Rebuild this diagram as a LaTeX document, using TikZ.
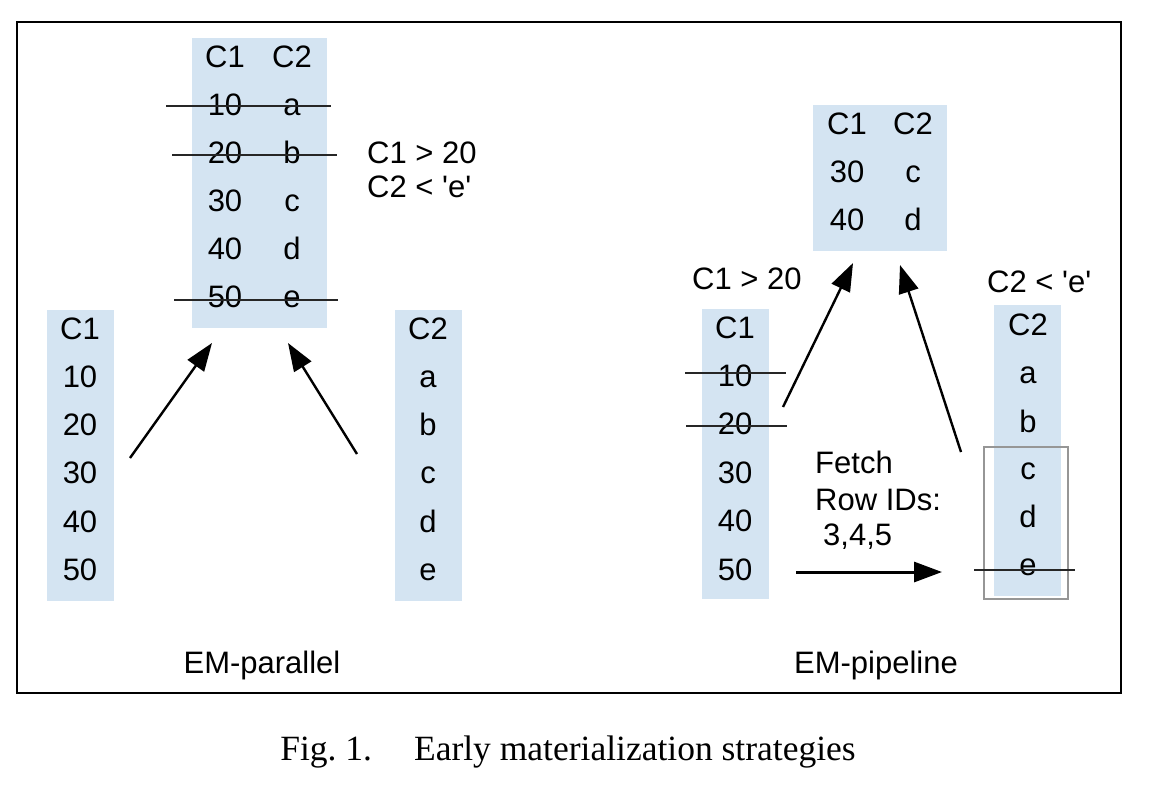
\documentclass[tikz,border=0pt]{standalone}
\usepackage{fontspec}
\setmainfont{Liberation Sans}
\newfontfamily\capfont{Liberation Serif}
\usepackage{tikz}
\usetikzlibrary{arrows.meta}
\usetikzlibrary{fit}
\definecolor{colblue}{RGB}{212,228,242}
\definecolor{boxgray}{RGB}{150,150,150}
\newcommand{\colbox}[5]{ \node[colbox, fit={( #2 , #3 ) ( #4 , #5 )}] (#1) {};}
\newcommand{\strike}[3]{ \draw[strikeline] ( #1 , #3 ) -- ( #2 , #3 );}
\newcommand{\sq}{\textquotesingle}
\tikzset{
  colbox/.style={fill=colblue, inner sep=0pt, outer sep=0pt},
  cell/.style={font=\fontsize{31}{36}\selectfont, inner sep=0pt, anchor=base},
  lbl/.style={font=\fontsize{31}{36}\selectfont, inner sep=0pt, anchor=base west},
  strikeline/.style={line width=1.2pt, black!85},
  arr/.style={line width=2.4pt, -{Triangle[length=28pt,width=20pt]}}
}

\begin{document}
\begin{tikzpicture}[x=1pt,y=-1pt]
        \useasboundingbox (0,0) rectangle (1174,788);
        \draw[line width=1.6pt] (17,22) rectangle (1121,693);

        % EM-parallel
        \colbox{ltab}{192}{38}{327}{328}
        \colbox{lcola}{47}{310}{114}{601}
        \colbox{lcolb}{395}{310}{462}{601}

        \node[cell] (lth1) at (225,67) {C1};
        \node[cell] (lth2) at (292,67) {C2};
        \node[cell] (lt11) at (225,115) {10};
        \node[cell] (lt12) at (292,115) {a};
        \node[cell] (lt21) at (225,163) {20};
        \node[cell] (lt22) at (292,163) {b};
        \node[cell] (lt31) at (225,211) {30};
        \node[cell] (lt32) at (292,211) {c};
        \node[cell] (lt41) at (225,259) {40};
        \node[cell] (lt42) at (292,259) {d};
        \node[cell] (lt51) at (225,307) {50};
        \node[cell] (lt52) at (292,307) {e};
        \strike{166}{331}{106}
        \strike{172}{337}{155}
        \strike{174}{338}{300}

        \node[lbl] (lcond1) at (367,163) {C1 > 20};
        \node[lbl] (lcond2) at (367,197) {C2 < \sq e\sq};

        \node[cell] (la0) at (80,339) {C1};
        \node[cell] (la1) at (80,387) {10};
        \node[cell] (la2) at (80,435) {20};
        \node[cell] (la3) at (80,483) {30};
        \node[cell] (la4) at (80,532) {40};
        \node[cell] (la5) at (80,580) {50};

        \node[cell] (lb0) at (428,339) {C2};
        \node[cell] (lb1) at (428,387) {a};
        \node[cell] (lb2) at (428,435) {b};
        \node[cell] (lb3) at (428,483) {c};
        \node[cell] (lb4) at (428,532) {d};
        \node[cell] (lb5) at (428,580) {e};

        \coordinate (lfroma) at (130,458);
        \coordinate (ltoa) at (212,343);
        \coordinate (lfromb) at (357,454);
        \coordinate (ltob) at (288,343);
        \draw[arr] (lfroma) -- (ltoa);
        \draw[arr] (lfromb) -- (ltob);

        \node[cell] (lname) at (262,673) {EM-parallel};

        % EM-pipeline
        \colbox{rtab}{813}{105}{947}{251}
        \colbox{rcola}{702}{309}{769}{599}
        \colbox{rcolb}{994}{305}{1061}{596}
        \draw[boxgray, line width=1.2pt] (984,447) rectangle (1068,599);

        \node[cell] (rth1) at (847,134) {C1};
        \node[cell] (rth2) at (913,134) {C2};
        \node[cell] (rt11) at (847,182) {30};
        \node[cell] (rt12) at (913,182) {c};
        \node[cell] (rt21) at (847,230) {40};
        \node[cell] (rt22) at (913,230) {d};

        \node[lbl] (rcond1) at (692,289) {C1 > 20};
        \node[lbl] (rcond2) at (987,292) {C2 < \sq e\sq};

        \node[cell] (ra0) at (735,338) {C1};
        \node[cell] (ra1) at (735,386) {10};
        \node[cell] (ra2) at (735,434) {20};
        \node[cell] (ra3) at (735,483) {30};
        \node[cell] (ra4) at (735,531) {40};
        \node[cell] (ra5) at (735,580) {50};
        \strike{685}{786}{373}
        \strike{686}{787}{426}

        \node[cell] (rb0) at (1028,335) {C2};
        \node[cell] (rb1) at (1028,383) {a};
        \node[cell] (rb2) at (1028,432) {b};
        \node[cell] (rb3) at (1028,479) {c};
        \node[cell] (rb4) at (1028,527) {d};
        \node[cell] (rb5) at (1028,575) {e};
        \strike{974}{1075}{570}

        \node[lbl] (fetch1) at (815,473) {Fetch};
        \node[lbl] (fetch2) at (815,510) {Row IDs:};
        \node[lbl] (fetch3) at (823,545) {3,4,5};

        \coordinate (rfroma) at (783,407);
        \coordinate (rtoa) at (853,263);
        \coordinate (rfromb) at (961,452);
        \coordinate (rtob) at (900,265);
        \coordinate (rfromc) at (796,572);
        \coordinate (rtoc) at (942,572);
        \draw[arr] (rfroma) -- (rtoa);
        \draw[arr] (rfromb) -- (rtob);
        \draw[arr, line width=3pt] (rfromc) -- (rtoc);

        \node[cell] (rname) at (876,673) {EM-pipeline};

        % caption
        \node[cell, font=\capfont\fontsize{35.5}{42}\selectfont] (caption) at (568,760) {Fig.~1.\hspace{42pt}Early materialization strategies};
\end{tikzpicture}
\end{document}
